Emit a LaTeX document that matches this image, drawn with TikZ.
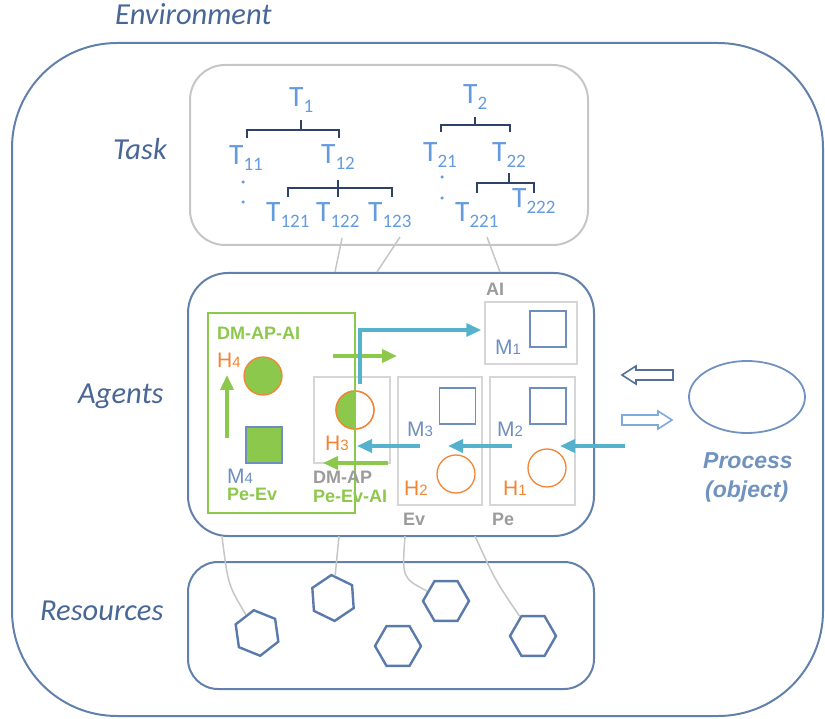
\documentclass[tikz,border=0pt]{standalone}
\usepackage{fontspec}
\setmainfont{Carlito}
\newfontfamily\arialf{Liberation Sans}
\usetikzlibrary{shapes.geometric,arrows.meta}
\definecolor{envblue}{RGB}{98,128,172}
\definecolor{lblblue}{RGB}{72,102,150}
\definecolor{tblue}{RGB}{100,155,222}
\definecolor{brk}{RGB}{45,65,105}
\definecolor{tgray}{RGB}{198,198,198}
\definecolor{bgray}{RGB}{214,214,214}
\definecolor{txgray}{RGB}{155,155,155}
\definecolor{gr}{RGB}{140,200,75}
\definecolor{orn}{RGB}{242,132,52}
\definecolor{mbl}{RGB}{110,142,192}
\definecolor{cya}{RGB}{85,178,205}
\definecolor{hexc}{RGB}{90,122,172}
\definecolor{procc}{RGB}{112,146,192}
\definecolor{arrdark}{RGB}{85,110,155}
\definecolor{arrlight}{RGB}{125,170,218}
\newcommand\Tsub[1]{{\fontsize{19}{19}\selectfont\raisebox{-6pt}{#1}}}
\newcommand\Hsub[1]{{\fontsize{15}{15}\selectfont #1}}
\begin{document}
\begin{tikzpicture}[x=1pt,y=-1pt,
  lbl/.style={font=\fontsize{30.5}{30.5}\selectfont\itshape, text=lblblue, anchor=base west, inner sep=0pt},
  tl/.style={font=\fontsize{29.5}{29.5}\selectfont, text=tblue, anchor=base west, inner sep=0pt},
  brkline/.style={draw=brk, line width=1.6pt},
  tdot/.style={circle, fill=tblue, inner sep=0pt, minimum size=3.5pt},
  ag/.style={font=\arialf\fontsize{21}{21}\selectfont, anchor=base west, inner sep=0pt},
  bt/.style={font=\arialf\bfseries\fontsize{18}{18}\selectfont, anchor=base west, inner sep=0pt},
  gbox/.style={draw=bgray, line width=1.5pt, inner sep=0pt},
  msq/.style={draw=mbl, line width=1.3pt, minimum size=36pt, inner sep=0pt},
  hcirc/.style={circle, draw=orn, line width=1.3pt, minimum size=38pt, inner sep=0pt},
  garrow/.style={draw=gr, line width=3.6pt, -{Triangle[length=15pt,width=13pt]}},
  carrow/.style={draw=cya, line width=3.6pt, -{Triangle[length=15pt,width=13pt]}},
  hexa/.style={regular polygon, regular polygon sides=6, draw=hexc, line width=2.4pt, minimum size=46pt, inner sep=0pt},
  link/.style={draw=tgray, line width=1.5pt},
  procf/.style={font=\arialf\bfseries\itshape\fontsize{23}{23}\selectfont, text=procc, anchor=base west, inner sep=0pt}
]
\useasboundingbox (0,0) rectangle (825,719);

% main containers
\node[draw=envblue, line width=2pt, rounded corners=105pt, minimum width=811pt, minimum height=673pt, inner sep=0pt] (env) at (417.5,379.5) {};
\node[draw=tgray, line width=2pt, rounded corners=35pt, minimum width=398pt, minimum height=180pt, inner sep=0pt] (task) at (389,155) {};
\node[draw=envblue, line width=2pt, rounded corners=40pt, minimum width=406pt, minimum height=263pt, inner sep=0pt] (agents) at (391,404.5) {};
\node[draw=envblue, line width=2pt, rounded corners=30pt, minimum width=406pt, minimum height=127pt, inner sep=0pt] (res) at (391,625.5) {};

% side labels
\node[lbl] (lenv) at (115,25) {Environment};
\node[lbl] (ltask) at (113,160) {Task};
\node[lbl] (lag) at (78,403) {Agents};
\node[lbl] (lres) at (40,620) {Resources};

% task tree
\node[tl] (t1) at (289,107) {T\Tsub{1}};
\node[tl] (t11) at (229,165) {T\Tsub{11}};
\node[tl] (t12) at (321,164) {T\Tsub{12}};
\node[tl] (t121) at (266,222) {T\Tsub{121}};
\node[tl] (t122) at (316,222) {T\Tsub{122}};
\node[tl] (t123) at (368,222) {T\Tsub{123}};
\node[tl] (t2) at (463,104) {T\Tsub{2}};
\node[tl] (t21) at (423,162) {T\Tsub{21}};
\node[tl] (t22) at (492,162) {T\Tsub{22}};
\node[tl] (t221) at (455,222) {T\Tsub{221}};
\node[tl] (t222) at (512,208) {T\Tsub{222}};
\node[tdot] (d1) at (243,182) {};
\node[tdot] (d2) at (243,202) {};
\node[tdot] (d3) at (442,177) {};
\node[tdot] (d4) at (442,198) {};

\draw[brkline] (247,138) -- (247,130) -- (339,130) -- (339,138);
\draw[brkline] (301,120) -- (301,130);
\draw[brkline] (288,197) -- (288,188) -- (392,188) -- (392,197);
\draw[brkline] (338,180) -- (338,197);
\draw[brkline] (441,132) -- (441,125) -- (510,125) -- (510,132);
\draw[brkline] (475,117) -- (475,125);
\draw[brkline] (477,193) -- (477,183) -- (534,183) -- (534,193);
\draw[brkline] (509,173) -- (509,183);

% task -> agents links
\coordinate (c1) at (342,238);
\coordinate (c2) at (400,237);
\coordinate (c3) at (487,237);
\draw[link] (c1) -- (335,0 |- agents.north);
\draw[link] (c2) -- (377,0 |- agents.north);
\draw[link] (c3) -- (500,0 |- agents.north);

% agent sub-boxes
\node[gbox, minimum width=76pt, minimum height=86pt] (h3box) at (352,420) {};
\node[gbox, minimum width=92pt, minimum height=62pt] (aibox) at (531,333) {};
\node[gbox, minimum width=84pt, minimum height=128pt] (evbox) at (440,441) {};
\node[gbox, minimum width=85pt, minimum height=128pt] (pebox) at (532.5,441) {};

% H3 half circle
\node[hcirc] (h3c) at (355,410) {};
\begin{scope}
  \clip (330,385) rectangle (355,435);
  \fill[gr] (355,410) circle[radius=19pt];
\end{scope}
\node[hcirc] at (355,410) {};

% green box
\node[draw=gr, line width=1.2pt, minimum width=147pt, minimum height=200pt, inner sep=0pt] (gbox) at (281.5,413) {};

% shapes
\node[hcirc, fill=gr] (h4c) at (263,376) {};
\node[msq, fill=gr] (m4s) at (264,445) {};
\node[msq] (m1s) at (548,329) {};
\node[msq] (m3s) at (457.5,406) {};
\node[msq] (m2s) at (548,406) {};
\node[hcirc] (h2c) at (456,474) {};
\node[hcirc] (h1c) at (547,468) {};

% agent texts
\node[bt, text=gr] (tdmapai) at (217,340) {DM-AP-AI};
\node[ag, text=orn] (th4) at (217,367) {H\Hsub{4}};
\node[ag, text=mbl] (tm4) at (227,483) {M\Hsub{4}};
\node[bt, text=gr] (tpeev) at (227,500) {Pe-Ev};
\node[ag, text=orn] (th3) at (325,450) {H\Hsub{3}};
\node[bt, text=txgray] (tdmap) at (313,483) {DM-AP};
\node[bt, text=gr] (tpeevai) at (313,502) {Pe-Ev-AI};
\node[bt, text=txgray] (tai) at (486,296) {AI};
\node[ag, text=mbl] (tm1) at (495,355) {M\Hsub{1}};
\node[ag, text=mbl] (tm3) at (407,436) {M\Hsub{3}};
\node[ag, text=mbl] (tm2) at (497,436) {M\Hsub{2}};
\node[ag, text=orn] (th2) at (404,495) {H\Hsub{2}};
\node[ag, text=orn] (th1) at (503,495) {H\Hsub{1}};
\node[bt, text=txgray] (tev) at (403,525) {Ev};
\node[bt, text=txgray] (tpe) at (492,525) {Pe};

% arrows in agents
\coordinate (g1) at (227,438);
\coordinate (g2) at (227,375);
\draw[garrow] (g1) -- (g2);
\coordinate (g3) at (333,356);
\coordinate (g4) at (397,356);
\draw[garrow] (g3) -- (g4);
\coordinate (g5) at (388,463);
\coordinate (g6) at (323,463);
\draw[garrow] (g5) -- (g6);
\coordinate (e0) at (360,384);
\draw[carrow, line join=miter] (e0) -- (360,330) -- ([xshift=-3pt]aibox.west |- 0,330);
\coordinate (k1) at (420,446);
\coordinate (k2) at (357,446);
\draw[carrow] (k1) -- (k2);
\coordinate (k3) at (512,446);
\coordinate (k4) at (448,446);
\draw[carrow] (k3) -- (k4);
\coordinate (k5) at (625,446);
\coordinate (k6) at (560,446);
\draw[carrow] (k5) -- (k6);

% process
\node[ellipse, draw=procc, line width=1.8pt, minimum width=116pt, minimum height=72pt, inner sep=0pt] (proc) at (747,397) {};
\node[procf] (tproc) at (703,468) {Process};
\node[procf] (tobj) at (705,497) {(object)};
\draw[draw=arrdark, line width=1.6pt, line join=miter] (622,375) -- (636,366) -- (636,370) -- (673,370) -- (673,380) -- (636,380) -- (636,384) -- cycle;
\draw[draw=arrlight, line width=1.6pt, line join=miter] (672,420) -- (658,411) -- (658,415) -- (622,415) -- (622,425) -- (658,425) -- (658,429) -- cycle;

% resources
\node[hexa, rotate=38] (ha) at (257,633) {};
\node[hexa, rotate=34] (hb) at (333,598) {};
\node[hexa] (hc) at (398,646) {};
\node[hexa] (hd) at (446,601) {};
\node[hexa] (he) at (533,636) {};

\coordinate (r1) at (222,536);
\coordinate (r2) at (339,536);
\coordinate (r3) at (405,536);
\coordinate (r4) at (475,536);
\draw[link] (r1) .. controls (228,585) .. (ha);
\draw[link] (r2) -- (hb);
\draw[link] (r3) .. controls (402,578) .. (hd);
\draw[link] (r4) .. controls (495,580) .. (he);
\end{tikzpicture}
\end{document}
